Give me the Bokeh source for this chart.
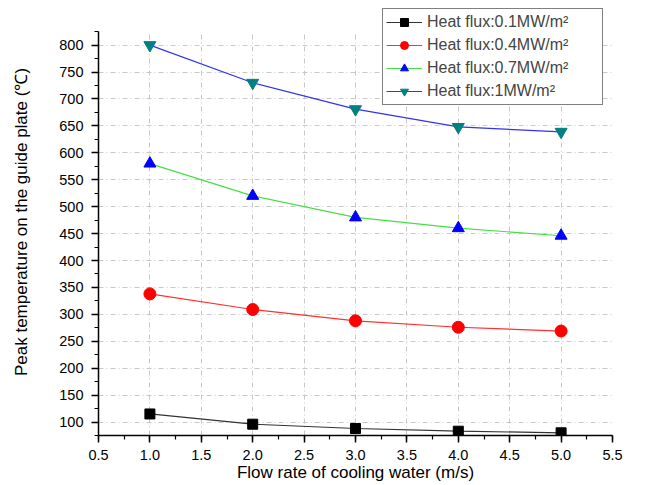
from bokeh.plotting import figure
from bokeh.models import Range1d, SingleIntervalTicker, NumeralTickFormatter, Legend, LegendItem, BoxAnnotation
from bokeh.embed import file_html
from bokeh.resources import INLINE

flow = [1.0, 2.0, 3.0, 4.0, 5.0]
q01 = [115, 96, 88, 83, 80]
q04 = [338, 309, 288, 276, 269]
q07 = [580, 520, 480, 460, 446]
q10 = [800, 730, 681, 648, 639]
labels = ["Heat flux:0.1MW/m²", "Heat flux:0.4MW/m²", "Heat flux:0.7MW/m²", "Heat flux:1MW/m²"]

FONT = "Liberation Sans"
Y_MIN, Y_MAX = 75, 825      # axis extent
Y_VIEW = 868                # extra headroom so the legend can sit above the axis top

p = figure(width=640, height=484, output_backend="svg", toolbar_location=None,
           x_range=Range1d(0.5, 5.5), y_range=Range1d(Y_MIN, Y_VIEW),
           min_border_left=98, min_border_right=28, min_border_top=8, min_border_bottom=49)
p.outline_line_color = None
p.background_fill_color = "white"

for ax in (p.xaxis[0], p.yaxis[0]):
    ax.axis_line_width = 1.5
    ax.major_tick_line_width = 1.5
    ax.minor_tick_line_width = 1.2
    ax.major_tick_out = 7
    ax.major_tick_in = 0
    ax.minor_tick_out = 4
    ax.minor_tick_in = 0
    ax.major_label_text_font = FONT
    ax.major_label_text_font_size = "14.5px"
    ax.major_label_text_color = "black"
    ax.axis_label_text_font = FONT
    ax.axis_label_text_font_style = "normal"
    ax.axis_label_text_color = "black"

p.yaxis.bounds = (Y_MIN, Y_MAX)
p.xaxis.ticker = SingleIntervalTicker(interval=0.5, num_minor_ticks=2)
p.yaxis.ticker = SingleIntervalTicker(interval=50, num_minor_ticks=2)
p.xaxis.formatter = NumeralTickFormatter(format="0.0")
p.xaxis.axis_label = "Flow rate of cooling water (m/s)"
p.yaxis.axis_label = "Peak temperature on the guide plate (℃)"
p.xaxis.axis_label_text_font_size = "17px"
p.yaxis.axis_label_text_font_size = "17px"
p.xaxis.major_label_standoff = 7
p.yaxis.major_label_standoff = 8
p.xaxis.axis_label_standoff = 0
p.yaxis.axis_label_standoff = 25

for g in (p.xgrid[0], p.ygrid[0]):
    g.grid_line_color = "#c8c8c8"
    g.grid_line_dash = "5 3 1 3"
    g.grid_line_width = 1

# blank out the headroom above the axis top
p.add_layout(BoxAnnotation(bottom=Y_MAX, fill_color="white", fill_alpha=1, line_color=None, level="underlay"))

l1 = p.line(flow, q01, line_color="#333333", line_width=1.2)
m1 = p.scatter(flow, q01, marker="square", size=10, fill_color="black", line_color="black")
l2 = p.line(flow, q04, line_color="#ff3030", line_width=1.2)
m2 = p.scatter(flow, q04, marker="circle", size=12, fill_color="red", line_color="red")
l3 = p.line(flow, q07, line_color="#44e044", line_width=1.2)
m3 = p.scatter(flow, q07, marker="triangle", size=12, fill_color="blue", line_color="blue")
l4 = p.line(flow, q10, line_color="#3333ee", line_width=1.2)
m4 = p.scatter(flow, q10, marker="inverted_triangle", size=12, fill_color="#008080", line_color="#008080")

legend = Legend(items=[LegendItem(label=labels[0], renderers=[l1, m1]),
                       LegendItem(label=labels[1], renderers=[l2, m2]),
                       LegendItem(label=labels[2], renderers=[l3, m3]),
                       LegendItem(label=labels[3], renderers=[l4, m4])],
                location=(284, 330))
legend.label_text_font = FONT
legend.label_text_font_size = "16px"
legend.label_width = 172
legend.glyph_width = 36
legend.glyph_height = 20
legend.spacing = 3
legend.padding = 3
legend.margin = 0
legend.label_standoff = 5
legend.border_line_color = "black"
legend.border_line_width = 1.2
legend.background_fill_alpha = 1
p.add_layout(legend, "center")

open("out.html", "w").write(file_html(p, INLINE))
